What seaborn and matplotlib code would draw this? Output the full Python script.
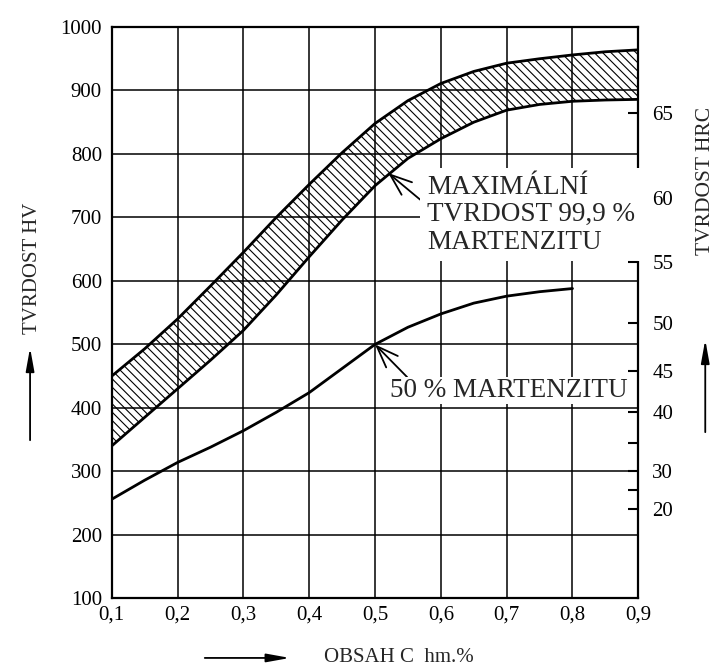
import matplotlib
matplotlib.use("Agg")
import matplotlib.pyplot as plt
import seaborn as sns
import pandas as pd

# ---- data ----
carbon = [0.10, 0.15, 0.20, 0.25, 0.30, 0.35, 0.40, 0.45, 0.50,
          0.55, 0.60, 0.65, 0.70, 0.75, 0.80, 0.85, 0.90]
hv_max_upper = [450, 493, 540, 592, 645, 700, 752, 802, 848,
                884, 911, 930, 943, 950, 956, 961, 964]
hv_max_lower = [340, 385, 430, 475, 522, 578, 638, 696, 750,
                793, 824, 850, 869, 878, 883, 885, 886]
carbon_50 = [0.10, 0.15, 0.20, 0.25, 0.30, 0.35, 0.40, 0.45,
             0.50, 0.55, 0.60, 0.65, 0.70, 0.75, 0.80]
hv_50 = [256, 286, 314, 338, 364, 393, 424, 462,
         500, 527, 548, 565, 576, 583, 588]

x_ticks = [0.1, 0.2, 0.3, 0.4, 0.5, 0.6, 0.7, 0.8, 0.9]
x_tick_labels = ["0,1", "0,2", "0,3", "0,4", "0,5", "0,6", "0,7", "0,8", "0,9"]
hv_ticks = [100, 200, 300, 400, 500, 600, 700, 800, 900, 1000]
hrc_tick_hv = [865, 731, 630, 533, 458, 394, 344, 301, 270, 240]
hrc_tick_labels = ["65", "60", "55", "50", "45", "40", "", "30", "", "20"]

label_hv = "TVRDOST HV"
label_hrc = "TVRDOST HRC"
label_x = "OBSAH C  hm.%"
note_max = "MAXIMÁLNÍ\nTVRDOST 99,9 %\nMARTENZITU"
note_50 = "50 % MARTENZITU"

# ---- style ----
sns.set_theme(style="white")
plt.rcParams["font.family"] = ["Liberation Serif", "DejaVu Serif"]
plt.rcParams["hatch.linewidth"] = 0.8
plt.rcParams["hatch.color"] = "black"

fig = plt.figure(figsize=(7.16, 6.70), dpi=100)
ax = fig.add_axes([0.156, 0.107, 0.7355, 0.8527])

band = pd.DataFrame({"c": carbon, "up": hv_max_upper, "lo": hv_max_lower})
half = pd.DataFrame({"c": carbon_50, "hv": hv_50})

ax.fill_between(band["c"], band["lo"], band["up"], facecolor="none",
                edgecolor="black", hatch="\\\\\\\\", linewidth=0, zorder=2)
sns.lineplot(data=band, x="c", y="up", color="black", lw=2.0, ax=ax,
             estimator=None, sort=False, zorder=3)
sns.lineplot(data=band, x="c", y="lo", color="black", lw=2.0, ax=ax,
             estimator=None, sort=False, zorder=3)
sns.lineplot(data=half, x="c", y="hv", color="black", lw=2.0, ax=ax,
             estimator=None, sort=False, zorder=3)

ax.set_xlim(0.1, 0.9)
ax.set_ylim(100, 1000)
ax.set_xticks(x_ticks)
ax.set_xticklabels(x_tick_labels, fontsize=15)
ax.set_yticks(hv_ticks)
ax.set_yticklabels([str(v) for v in hv_ticks], fontsize=15)
ax.tick_params(axis="x", length=0, pad=5, colors="black")
ax.tick_params(axis="y", length=0, pad=7, colors="black")
ax.grid(True, color="black", lw=1.1, zorder=1)
ax.set_axisbelow(True)
ax.set_xlabel("")
ax.set_ylabel("")
for s in ax.spines.values():
    s.set_color("black")
    s.set_linewidth(1.6)

# right HRC axis
ax2 = ax.twinx()
ax2.set_ylim(100, 1000)
ax2.set_yticks(hrc_tick_hv)
ax2.set_yticklabels(hrc_tick_labels, fontsize=15)
ax2.tick_params(axis="y", direction="in", length=7, width=1.5,
                pad=10, colors="black")
ax2.yaxis.get_major_ticks()[1].tick2line.set_visible(False)
ax2.grid(False)
for s in ax2.spines.values():
    s.set_visible(False)

# annotations
ax.annotate(note_max, xy=(0.520, 770), xytext=(0.579, 704),
            fontsize=19.5, ha="left", va="center", linespacing=1.12,
            bbox=dict(boxstyle="square,pad=0.25", fc="white", ec="none"),
            arrowprops=dict(arrowstyle="->,head_length=0.8,head_width=0.3",
                            color="black", lw=1.3, shrinkA=0, shrinkB=0,
                            relpos=(0.0, 0.62)),
            zorder=5)
ax.annotate(note_50, xy=(0.5, 500), xytext=(0.5235, 427),
            fontsize=19.5, ha="left", va="center",
            bbox=dict(boxstyle="square,pad=0.04", fc="white", ec="none"),
            arrowprops=dict(arrowstyle="->,head_length=0.8,head_width=0.3",
                            color="black", lw=1.3, shrinkA=0, shrinkB=0,
                            relpos=(0.08, 0.95)),
            zorder=5)

# axis titles with arrows
fig.text(0.045, 0.60, label_hv, rotation=90, ha="center", va="center",
         fontsize=15)
fig.text(0.986, 0.73, label_hrc, rotation=90, ha="center", va="center",
         fontsize=15.5)
fig.text(0.4525, 0.018, label_x, ha="left", va="center", fontsize=15)
arrow_kw = dict(arrowstyle="-|>,head_length=1.0,head_width=0.18",
                color="black", lw=1.3, shrinkA=0, shrinkB=0)
fig.add_artist(matplotlib.patches.FancyArrowPatch(
    (0.042, 0.343), (0.042, 0.481), transform=fig.transFigure,
    mutation_scale=14, **arrow_kw))
fig.add_artist(matplotlib.patches.FancyArrowPatch(
    (0.985, 0.355), (0.985, 0.493), transform=fig.transFigure,
    mutation_scale=14, **arrow_kw))
fig.add_artist(matplotlib.patches.FancyArrowPatch(
    (0.286, 0.018), (0.405, 0.018), transform=fig.transFigure,
    mutation_scale=14, **arrow_kw))

fig.savefig("out.png", dpi=100, facecolor="white")
